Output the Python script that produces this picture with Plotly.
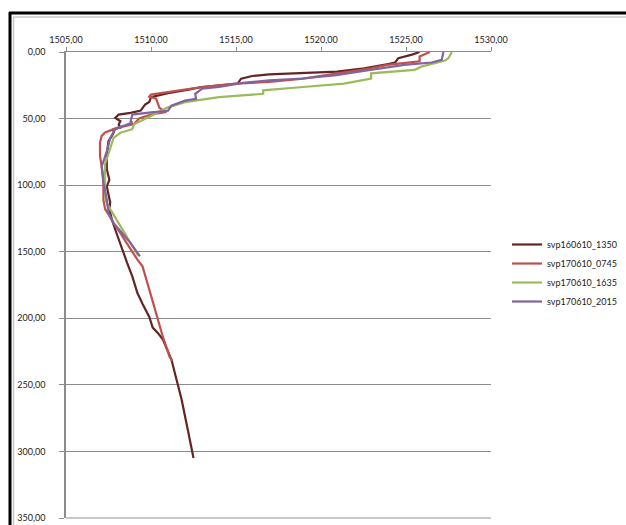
import plotly.graph_objects as go

# ---- sound velocity profiles: depth (m) vs sound speed (m/s) ----
depth_1350 = [0, 2, 4.6, 8, 9, 11, 12.3, 14.8, 16, 16.8, 18, 20, 23.7, 24.2, 26.3, 28.3,
              30.9, 33.9, 37.5, 39.5, 44, 45.7, 47, 49.5, 52, 54.5, 56.8, 58, 60.7, 63,
              67, 72, 78, 88, 96, 101, 108, 113, 118, 126, 133.5, 141, 151, 158.5, 168.5,
              181, 189, 199, 207, 211, 216, 231, 246, 261, 286, 305]
speed_1350 = [1525.8, 1525.35, 1524.55, 1524.35, 1523.95, 1522.95, 1522.55, 1520.95, 1518.95,
              1516.95, 1515.95, 1515.3, 1515.1, 1514.6, 1513.0, 1512.2, 1511.0, 1510.0,
              1509.9, 1509.65, 1509.4, 1508.8, 1508.1, 1507.9, 1508.2, 1508.1, 1508.2,
              1507.8, 1507.8, 1507.7, 1507.5, 1507.45, 1507.4, 1507.4, 1507.55, 1507.4,
              1507.5, 1507.6, 1507.55, 1507.7, 1507.9, 1508.1, 1508.4, 1508.6, 1508.9,
              1509.2, 1509.5, 1509.9, 1510.1, 1510.4, 1510.7, 1511.2, 1511.5, 1511.8,
              1512.2, 1512.5]

depth_0745 = [0, 3.4, 7, 8.4, 9.7, 12.3, 16, 20, 22.5, 23.7, 26.3, 28.3, 30, 32, 33.5, 35,
              42, 45, 47, 50, 54, 57, 60.5, 63, 68, 78, 86, 96, 111, 118, 122, 128.5, 136,
              143.5, 151, 156, 161, 178.5, 196, 214, 229, 232]
speed_0745 = [1526.4, 1525.8, 1525.8, 1524.95, 1523.9, 1522.95, 1520.9, 1518.95, 1516.95,
              1515.0, 1513.0, 1512.0, 1511.0, 1510.0, 1509.9, 1510.3, 1510.5, 1510.9,
              1510.0, 1509.3, 1509.0, 1508.0, 1507.3, 1507.1, 1507.0, 1507.0, 1507.1,
              1507.2, 1507.2, 1507.3, 1507.5, 1507.8, 1508.2, 1508.6, 1508.95, 1509.2,
              1509.5, 1509.9, 1510.3, 1510.7, 1511.1, 1511.25]

depth_1635 = [0, 4.6, 6.4, 11, 13.5, 16, 19.9, 23.7, 26.3, 28.8, 31.4, 33.9, 37.7, 41.6,
              48, 54.3, 58, 60.7, 64.5, 72, 84, 98, 111, 118, 128.5, 138.5, 151, 153]
speed_1635 = [1527.7, 1527.5, 1527.3, 1525.9, 1525.5, 1522.95, 1522.95, 1521.35, 1518.95,
              1516.6, 1516.6, 1514.0, 1512.0, 1511.0, 1510.0, 1509.0, 1508.9, 1508.2,
              1507.8, 1507.6, 1507.3, 1507.3, 1507.3, 1507.6, 1508.1, 1508.6, 1509.2,
              1509.25]

depth_2015 = [0, 5.9, 7.9, 9.7, 13.5, 17.4, 19.9, 21.2, 23.2, 26.3, 27.6, 31.4, 35.2, 36.5,
              40.3, 44.1, 45.4, 47, 52, 53, 58, 64.5, 74.7, 83, 86, 98, 111, 121, 128.5,
              136, 143.5, 153.5]
speed_2015 = [1527.2, 1527.1, 1526.5, 1524.9, 1522.9, 1520.9, 1518.9, 1516.95, 1515.4,
              1514.0, 1513.0, 1512.6, 1512.65, 1512.0, 1511.2, 1511.0, 1510.0, 1508.9,
              1508.8, 1508.9, 1507.9, 1507.6, 1507.4, 1507.2, 1507.1, 1507.2, 1507.4,
              1507.5, 1507.8, 1508.3, 1508.8, 1509.35]

series_names = ["svp160610_1350", "svp170610_0745", "svp170610_1635", "svp170610_2015"]
series_colors = ["#632523", "#C0504D", "#9BBB59", "#8064A2"]
series_speed = [speed_1350, speed_0745, speed_1635, speed_2015]
series_depth = [depth_1350, depth_0745, depth_1635, depth_2015]

x_ticks = [1505, 1510, 1515, 1520, 1525, 1530]
y_ticks = [0, 50, 100, 150, 200, 250, 300, 350]

# ---- page geometry (pixels) ----
W, H = 626, 525
ML, MR, MT, MB = 66, 135, 52, 7


def px_x(p):
    return (p - ML) / (W - ML - MR)


def px_y(p):
    return (H - MB - p) / (H - MT - MB)


fig = go.Figure()
for name, color, sx, dy in zip(series_names, series_colors, series_speed, series_depth):
    fig.add_trace(go.Scatter(x=sx, y=dy, mode="lines", name=name,
                             line=dict(color=color, width=2.2)))

axis_grey = "#8c8c8c"
tick_font = dict(family="Lato, sans-serif", size=9, color="#1a1a1a")

fig.update_layout(
    width=W, height=H,
    margin=dict(l=ML, r=MR, t=MT, b=MB, autoexpand=False),
    paper_bgcolor="white", plot_bgcolor="white",
    separators=",.",
    showlegend=True,
    legend=dict(xref="container", yref="container", x=507 / W, y=1 - 273 / H,
                xanchor="left", yanchor="middle",
                font=dict(family="Lato, sans-serif", size=9, color="#1a1a1a"),
                bgcolor="rgba(0,0,0,0)", itemwidth=30, tracegroupgap=0),
    xaxis=dict(range=[1505, 1530], side="top", tickvals=x_ticks, tickformat=".2f",
               showgrid=False, zeroline=False, showline=True, linecolor=axis_grey,
               linewidth=1, ticks="outside", ticklen=4, tickcolor=axis_grey,
               tickfont=tick_font),
    yaxis=dict(range=[350, 0], tickvals=y_ticks, tickformat=".2f",
               showgrid=True, gridcolor=axis_grey, gridwidth=1, zeroline=False,
               showline=True, linecolor=axis_grey, linewidth=1.5, ticks="outside",
               ticklen=5, tickcolor=axis_grey, tickfont=tick_font,
               ticklabelstandoff=12),
)

# bottom edge of the plotting area
fig.add_shape(type="line", xref="x domain", yref="y domain", x0=0, x1=1, y0=0, y1=0,
              line=dict(color="#c8c8c8", width=2), layer="below")

# chart frame: dark outer rule with a thin light inner rule
frame = [
    dict(x0=px_x(9), x1=px_x(W + 5), y0=px_y(13), y1=px_y(13), color="black", width=3),
    dict(x0=px_x(10), x1=px_x(10), y0=px_y(12), y1=px_y(H + 5), color="black", width=3),
    dict(x0=px_x(13), x1=px_x(W + 5), y0=px_y(17), y1=px_y(17), color="#c8c8c8", width=1.5),
    dict(x0=px_x(13.5), x1=px_x(13.5), y0=px_y(17), y1=px_y(H + 5), color="#c8c8c8", width=1.5),
]
for f in frame:
    fig.add_shape(type="line", xref="paper", yref="paper",
                  x0=f["x0"], x1=f["x1"], y0=f["y0"], y1=f["y1"],
                  line=dict(color=f["color"], width=f["width"]))

fig.write_html("out.html")
